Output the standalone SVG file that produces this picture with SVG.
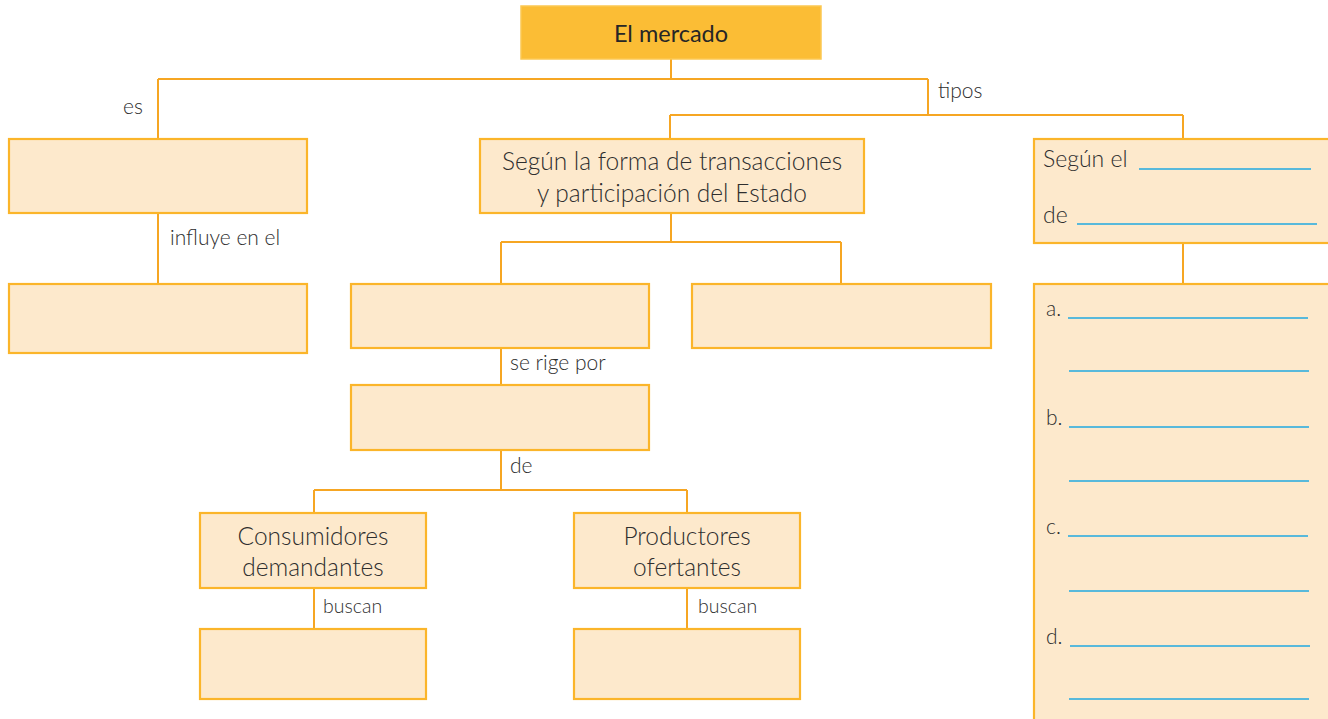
<svg xmlns="http://www.w3.org/2000/svg" width="1328" height="719" viewBox="0 0 1328 719">
<style>
.box{fill:#FDE9CC;stroke:#FBB52A;stroke-width:2.2}
.top{fill:#FBBD35;stroke:#FCC852;stroke-width:1.5}
.con{fill:none;stroke:#F6A623;stroke-width:2}
.blank{stroke:#20A9E1;stroke-width:1.6}
text{font-family:Lato,"Open Sans","Liberation Sans",sans-serif;font-weight:300;fill:#2e2e2e}
.t20{font-size:24.5px}
.rt{font-size:23px}
.lbl{font-size:21px}
.sm{font-size:19.5px}
.title{font-size:23.5px;font-weight:400;fill:#262626}
</style>
<rect width="1328" height="719" fill="#ffffff"/>
<g id="connectors">
<path class="con" d="M671 59V79M158 79H928M158 79V139M928 79V115M670 115H1183M670 115V139M1183 115V139"/>
<path class="con" d="M158 213V284"/>
<path class="con" d="M671 213V242M501 242H841M501 242V284M841 242V284"/>
<path class="con" d="M501 348V385M501 450V490M314 490H687M314 490V513M687 490V513"/>
<path class="con" d="M314 588V629M687 588V629"/>
<path class="con" d="M1183 243V284"/>
<text class="lbl" x="143" y="114" text-anchor="end">es</text>
<text class="lbl" x="938" y="98">tipos</text>
<text class="lbl" x="170" y="245">influye en el</text>
<text class="lbl" x="510" y="370">se rige por</text>
<text class="lbl" x="510" y="473">de</text>
<text class="sm" x="323" y="613">buscan</text>
<text class="sm" x="698" y="613">buscan</text>
</g>
<g id="n-mercado">
<rect class="top" x="521" y="6" width="300" height="53"/>
<text class="title" x="671" y="42" text-anchor="middle">El mercado</text>
</g>
<g id="n-es">
<rect class="box" x="9" y="139" width="298" height="74"/>
</g>
<g id="n-influye">
<rect class="box" x="9" y="284" width="298" height="69"/>
</g>
<g id="n-segun-forma">
<rect class="box" x="480" y="139" width="384" height="74"/>
<text class="t20" x="672" y="170" text-anchor="middle">Según la forma de transacciones</text>
<text class="t20" x="672" y="202" text-anchor="middle">y participación del Estado</text>
</g>
<g id="n-tipo1">
<rect class="box" x="351" y="284" width="298" height="64"/>
</g>
<g id="n-tipo2">
<rect class="box" x="692" y="284" width="299" height="64"/>
</g>
<g id="n-rige">
<rect class="box" x="351" y="385" width="298" height="65"/>
</g>
<g id="n-consumidores">
<rect class="box" x="200" y="513" width="226" height="75"/>
<text class="t20" x="313" y="545" text-anchor="middle">Consumidores</text>
<text class="t20" x="313" y="576" text-anchor="middle">demandantes</text>
</g>
<g id="n-productores">
<rect class="box" x="574" y="513" width="226" height="75"/>
<text class="t20" x="687" y="545" text-anchor="middle">Productores</text>
<text class="t20" x="687" y="576" text-anchor="middle">ofertantes</text>
</g>
<g id="n-buscan1">
<rect class="box" x="200" y="629" width="226" height="70"/>
</g>
<g id="n-buscan2">
<rect class="box" x="574" y="629" width="226" height="70"/>
</g>
<g id="n-segun-el">
<rect class="box" x="1034" y="139" width="310" height="104"/>
<text class="rt" x="1043" y="167">Según el</text>
<line class="blank" x1="1139" y1="169" x2="1311" y2="169"/>
<text class="rt" x="1043" y="223">de</text>
<line class="blank" x1="1077" y1="224" x2="1317" y2="224"/>
</g>
<g id="n-lista">
<rect class="box" x="1034" y="284" width="310" height="450"/>
<text class="lbl" x="1046" y="316">a.</text>
<line class="blank" x1="1068" y1="318" x2="1308" y2="318"/>
<line class="blank" x1="1069" y1="371" x2="1309" y2="371"/>
<text class="lbl" x="1046" y="425">b.</text>
<line class="blank" x1="1069" y1="427" x2="1309" y2="427"/>
<line class="blank" x1="1069" y1="481" x2="1309" y2="481"/>
<text class="lbl" x="1046" y="534">c.</text>
<line class="blank" x1="1068" y1="536" x2="1308" y2="536"/>
<line class="blank" x1="1069" y1="591" x2="1309" y2="591"/>
<text class="lbl" x="1046" y="644">d.</text>
<line class="blank" x1="1070" y1="646" x2="1310" y2="646"/>
<line class="blank" x1="1069" y1="699" x2="1309" y2="699"/>
</g>
</svg>
